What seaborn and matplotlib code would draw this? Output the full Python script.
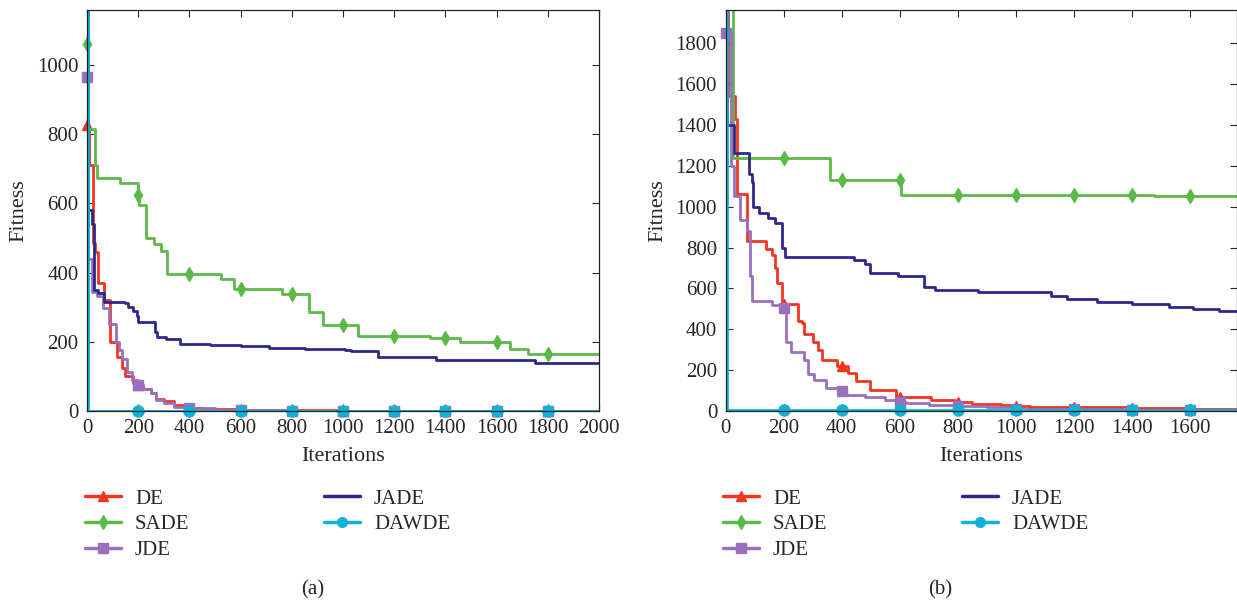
#!/usr/bin/env python3
"""
Convergence curves of five DE variants on two test functions, (a) and (b).
Writes out.png (1237x606).
"""

import matplotlib
matplotlib.use("Agg")
import matplotlib.pyplot as plt
import seaborn as sns
from matplotlib.lines import Line2D

ALGORITHMS = ["DE", "SADE", "JDE", "JADE", "DAWDE"]
COLORS = {"DE": "#f3341f", "SADE": "#5cb947", "JDE": "#9a70be",
          "JADE": "#2b2a8c", "DAWDE": "#0db2d6"}
MARKERS = {"DE": "^", "SADE": "d", "JDE": "s", "JADE": None, "DAWDE": "o"}

# ---- panel (a): step break points (iteration, fitness) ----
A_DE_ITER = [0, 8, 25, 33, 43, 65, 90, 119, 135, 150, 180, 200, 220, 250, 270,
             300, 340, 380, 400, 450, 500, 600, 800, 1000, 1200, 1400, 1600, 1800, 2000]
A_DE_FIT = [825, 710, 485, 460, 370, 322, 200, 155, 125, 102, 82, 75, 64, 52, 36,
            28, 18, 12, 10, 7, 5, 3, 1.5, 1, 0.8, 0.6, 0.5, 0.4, 0.4]

A_SADE_ITER = [0, 5, 31, 39, 127, 200, 205, 232, 260, 291, 313, 400, 522, 573, 600,
               762, 800, 867, 921, 1000, 1060, 1200, 1339, 1400, 1458, 1600, 1652,
               1721, 1800, 2000]
A_SADE_FIT = [1060, 815, 710, 672, 660, 625, 595, 500, 482, 462, 395, 395, 380, 352, 352,
              337, 337, 286, 248, 248, 218, 218, 210, 210, 198, 198, 180,
              166, 166, 166]

A_JDE_ITER = [0, 5, 20, 40, 62, 85, 113, 125, 138, 155, 175, 200, 220, 250, 270,
              300, 340, 400, 500, 600, 800, 1000, 1200, 1400, 1600, 1800, 2000]
A_JDE_FIT = [965, 440, 345, 333, 298, 250, 200, 175, 150, 112, 90, 76, 65, 52, 32,
             22, 13, 8, 4, 2, 0.8, 0.5, 0.4, 0.3, 0.3, 0.3, 0.3]

A_JADE_ITER = [0, 5, 18, 28, 43, 65, 150, 160, 180, 195, 200, 266, 275, 310, 364,
               480, 600, 712, 851, 1006, 1030, 1138, 1362, 1749, 2000]
A_JADE_FIT = [1200, 580, 540, 350, 340, 316, 312, 300, 288, 275, 258, 228, 215, 207, 193,
              190, 187, 182, 180, 175, 172, 155, 146, 138, 138]

A_DAWDE_ITER = [0, 3, 200, 400, 600, 800, 1000, 1200, 1400, 1600, 1800, 2000]
A_DAWDE_FIT = [1200, 0.5, 0.4, 0.4, 0.4, 0.3, 0.3, 0.3, 0.3, 0.3, 0.3, 0.3]

# ---- panel (b) ----
B_DE_ITER = [0, 9, 33, 38, 73, 141, 159, 172, 179, 193, 200, 250, 263, 270, 301,
             320, 331, 383, 400, 423, 450, 498, 586, 600, 708, 790, 800, 850, 950,
             1000, 1050, 1200, 1400, 1600, 1760]
B_DE_FIT = [2500, 1540, 1430, 1060, 830, 795, 765, 700, 625, 530, 525, 440, 430, 378, 340,
            300, 250, 222, 222, 185, 148, 103, 70, 70, 55, 42, 42, 35, 28,
            25, 22, 18, 13, 10, 8]

B_SADE_ITER = [0, 27, 200, 360, 400, 600, 605, 800, 1000, 1200, 1400, 1475, 1600, 1760]
B_SADE_FIT = [2600, 1240, 1240, 1130, 1130, 1130, 1057, 1057, 1057, 1057, 1057, 1052, 1052, 1052]

B_JDE_ITER = [0, 18, 30, 50, 75, 84, 91, 159, 200, 210, 225, 271, 285, 305, 345,
              400, 415, 480, 550, 600, 620, 700, 800, 900, 1000, 1200, 1400, 1600, 1760]
B_JDE_FIT = [1850, 1200, 1050, 935, 880, 660, 540, 520, 505, 340, 290, 250, 180, 150, 112,
             100, 80, 70, 55, 45, 40, 30, 25, 18, 12, 8, 6, 5, 5]

B_JADE_ITER = [0, 5, 30, 81, 90, 95, 117, 147, 172, 196, 205, 444, 480, 498, 593,
               684, 720, 870, 1122, 1177, 1278, 1400, 1529, 1611, 1699, 1760]
B_JADE_FIT = [2500, 1400, 1265, 1160, 1120, 1000, 970, 945, 920, 800, 752, 740, 720, 675, 663,
              608, 590, 582, 562, 548, 532, 524, 510, 500, 490, 490]

B_DAWDE_ITER = [0, 4, 200, 400, 600, 800, 1000, 1200, 1400, 1600, 1760]
B_DAWDE_FIT = [2500, 4, 4, 4, 4, 4, 4, 4, 4, 4, 4]

PANELS = {
    "a": {"DE": (A_DE_ITER, A_DE_FIT), "SADE": (A_SADE_ITER, A_SADE_FIT),
          "JDE": (A_JDE_ITER, A_JDE_FIT), "JADE": (A_JADE_ITER, A_JADE_FIT),
          "DAWDE": (A_DAWDE_ITER, A_DAWDE_FIT)},
    "b": {"DE": (B_DE_ITER, B_DE_FIT), "SADE": (B_SADE_ITER, B_SADE_FIT),
          "JDE": (B_JDE_ITER, B_JDE_FIT), "JADE": (B_JADE_ITER, B_JADE_FIT),
          "DAWDE": (B_DAWDE_ITER, B_DAWDE_FIT)},
}

X_LIMITS = {"a": (0, 2000), "b": (0, 1760)}
Y_LIMITS = {"a": (0, 1160), "b": (0, 1965)}
Y_TICKS = {"a": range(0, 1001, 200), "b": range(0, 1801, 200)}
X_TICKS = {"a": range(0, 2001, 200), "b": range(0, 1601, 200)}

W, H = 1237, 606
FS = 15


def mark_points(iters, fit, xmax, ymax):
    """Indices of the points that carry a marker (every 200 iterations, inside the box)."""
    return [i for i, (x, y) in enumerate(zip(iters, fit))
            if x % 200 == 0 and x < xmax and y <= ymax]


def draw_panel(ax, key):
    xmax, ymax = X_LIMITS[key][1], Y_LIMITS[key][1]
    for name in ALGORITHMS:
        iters, fit = PANELS[key][name]
        sns.lineplot(x=iters, y=fit, ax=ax, estimator=None, sort=False,
                     errorbar=None, legend=False, color=COLORS[name], lw=2,
                     drawstyle="steps-post")
        if MARKERS[name]:
            # markers drawn unclipped so the ones on the border stay whole
            sns.lineplot(x=iters, y=fit, ax=ax, estimator=None, sort=False,
                         errorbar=None, legend=False, color=COLORS[name], ls="",
                         marker=MARKERS[name], ms=7 if name != "DAWDE" else 8,
                         markevery=mark_points(iters, fit, xmax, ymax),
                         mec=COLORS[name], mew=1, clip_on=False)
    ax.set_xlim(*X_LIMITS[key])
    ax.set_ylim(*Y_LIMITS[key])
    ax.set_xticks(list(X_TICKS[key]))
    ax.set_yticks(list(Y_TICKS[key]))
    ax.set_xlabel("Iterations", fontsize=16, labelpad=6)
    ax.set_ylabel("Fitness", fontsize=16, labelpad=6)
    ax.tick_params(direction="in", top=True, right=True, length=5, width=0.8,
                   labelsize=FS, pad=6)
    for sp in ax.spines.values():
        sp.set_linewidth(0.9)
        sp.set_color("#222222")


def legend_handle(name):
    return Line2D([], [], color=COLORS[name], lw=2.5, marker=MARKERS[name],
                  ms=7, mec=COLORS[name])


def add_legends(fig, x1, x2, top):
    common = dict(frameon=False, loc="upper left", fontsize=FS, handlelength=1.75,
                  handletextpad=0.65, labelspacing=0.3, borderpad=0, borderaxespad=0,
                  bbox_transform=fig.transFigure)
    col1 = ["DE", "SADE", "JDE"]
    col2 = ["JADE", "DAWDE"]
    fig.legend([legend_handle(n) for n in col1], col1,
               bbox_to_anchor=(x1 / W, 1 - top / H), **common)
    fig.legend([legend_handle(n) for n in col2], col2,
               bbox_to_anchor=(x2 / W, 1 - top / H), **common)


def main():
    sns.set_style("ticks")
    plt.rcParams["font.family"] = ["Liberation Serif", "DejaVu Serif"]

    fig = plt.figure(figsize=(W / 100, H / 100), dpi=100)
    ax_a = fig.add_axes([87 / W, 1 - 411 / H, 512 / W, 401.5 / H])
    ax_b = fig.add_axes([725.5 / W, 1 - 411 / H, 511 / W, 401.5 / H])

    draw_panel(ax_a, "a")
    draw_panel(ax_b, "b")

    add_legends(fig, 85, 324, 489)
    add_legends(fig, 723, 962, 489)

    fig.text(313 / W, 1 - 590 / H, "(a)", ha="center", va="center", fontsize=FS)
    fig.text(940 / W, 1 - 590 / H, "(b)", ha="center", va="center", fontsize=FS)

    fig.savefig("out.png", dpi=100)
    plt.close(fig)


if __name__ == "__main__":
    main()
